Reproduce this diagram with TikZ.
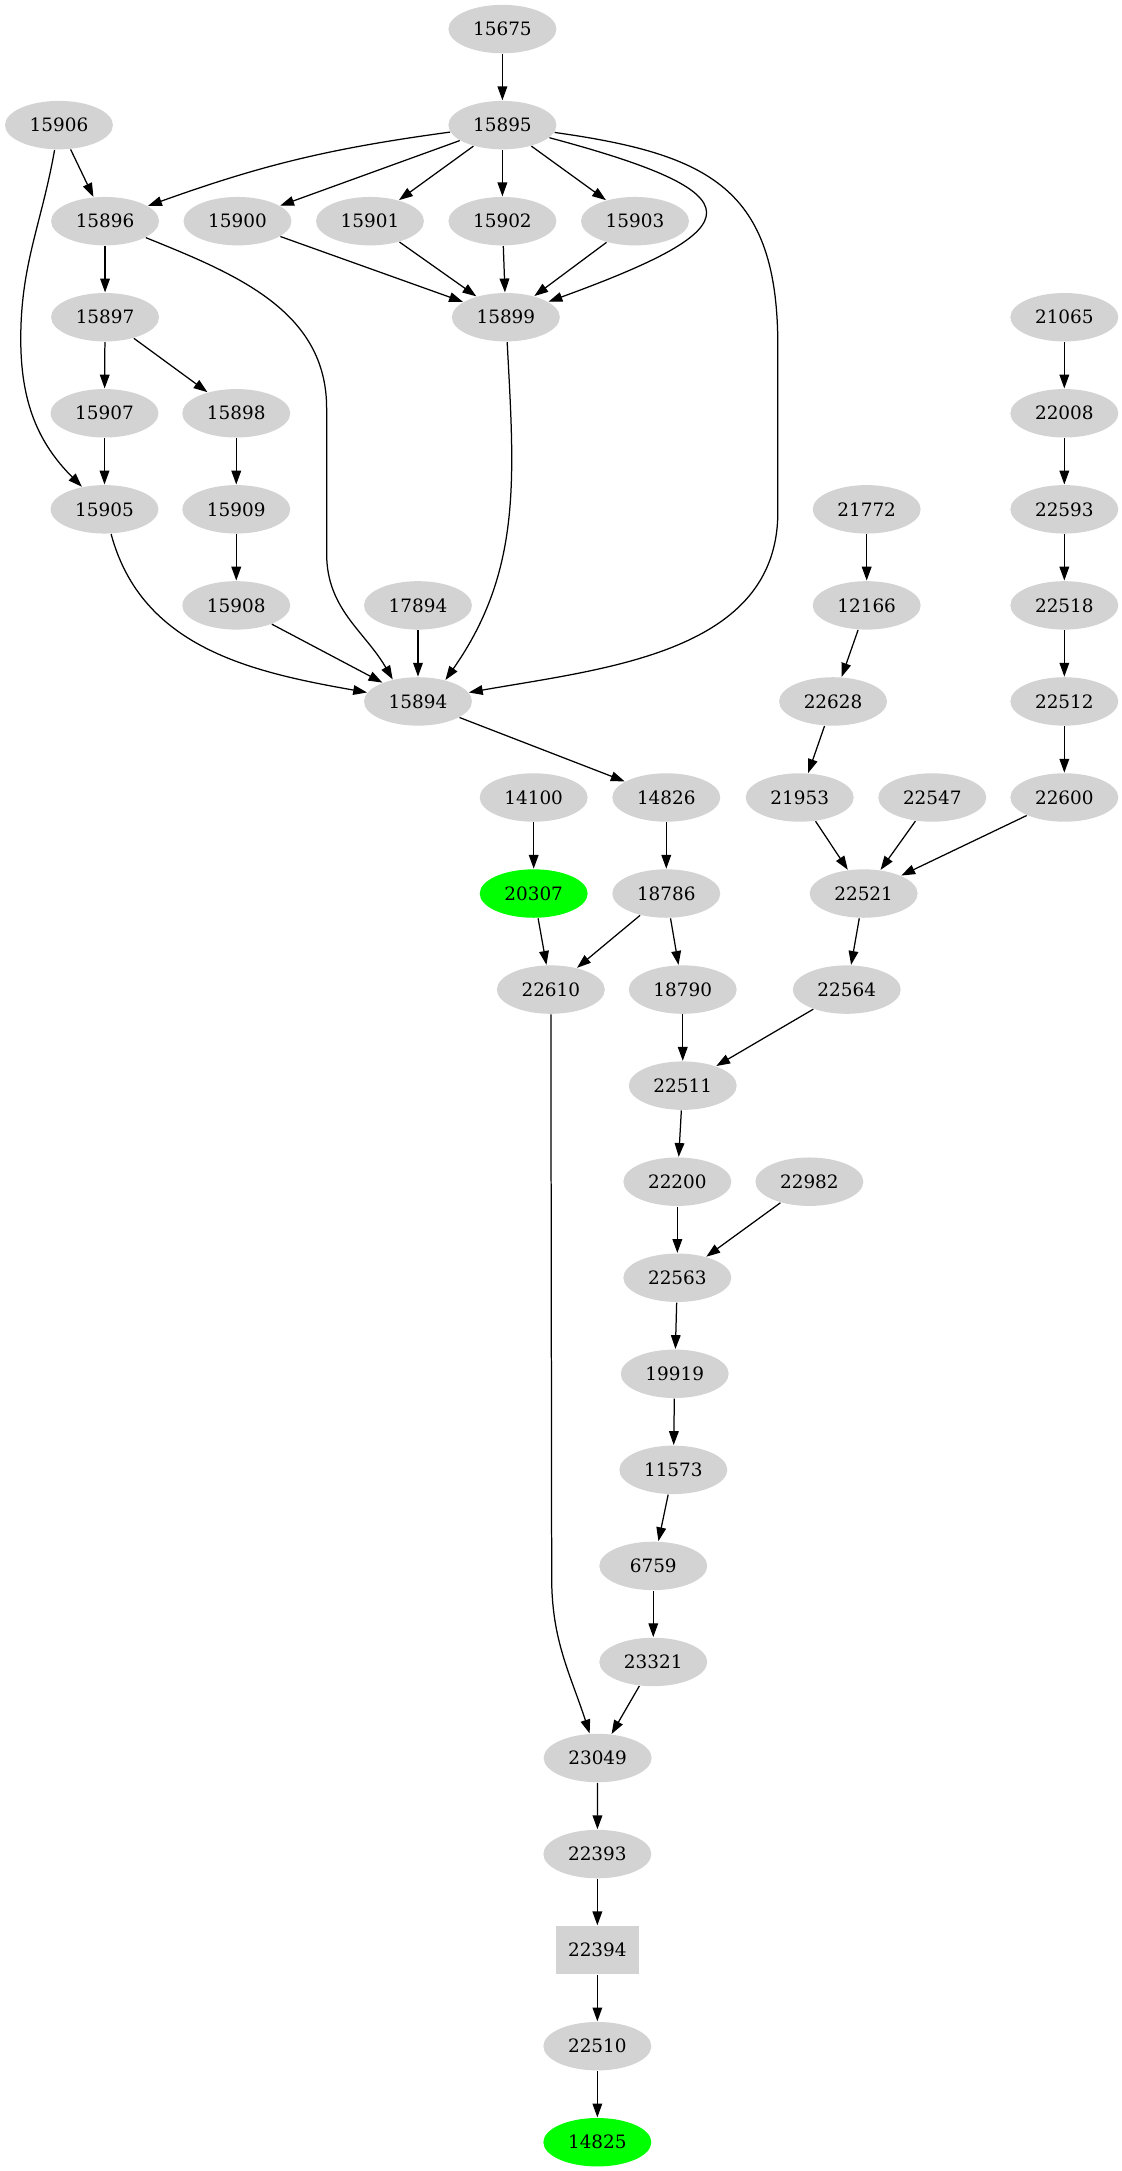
\documentclass[tikz,border=0pt]{standalone}
\usepackage{fontspec}
\setmainfont{DejaVu Serif}
\usetikzlibrary{arrows.meta, shapes.geometric}
\definecolor{cgrey}{HTML}{D3D3D3}
\definecolor{cgreen}{HTML}{00FF00}
\tikzset{
  every picture/.style={line width=0.9pt},
  arrow/.style={-{Triangle[length=10pt, width=7pt]}, draw=black},
  lbl/.style={font=\fontsize{13.3}{16}\selectfont},
}

\begin{document}
\begin{tikzpicture}[x=1pt, y=1pt,
  nd/.style={ellipse, fill=cgrey, minimum width=78pt, minimum height=35pt, inner sep=0pt, lbl},
  hit/.style={nd, fill=cgreen},
  blk/.style={rectangle, fill=cgrey, minimum width=60pt, minimum height=35pt, inner sep=0pt, lbl}]
  \useasboundingbox (0,0) rectangle (810,-1568.6);
  % upper block
  \node[nd] (n15675) at (363, -21) {15675};
  \node[nd] (n15895) at (363, -90.4) {15895};
  \node[nd] (n15906) at (42.6, -90.4) {15906};
  \node[nd] (n15896) at (75.9, -159.8) {15896};
  \node[nd] (n15900) at (171.6, -159.8) {15900};
  \node[nd] (n15901) at (267.3, -159.8) {15901};
  \node[nd] (n15902) at (363, -159.8) {15902};
  \node[nd] (n15903) at (458.8, -159.8) {15903};
  \node[nd] (n15897) at (75.9, -229.2) {15897};
  \node[nd] (n15899) at (365.5, -229.2) {15899};
  \node[nd] (n15907) at (75.5, -298.6) {15907};
  \node[nd] (n15898) at (170.7, -298.6) {15898};
  \node[nd] (n15905) at (75.5, -368) {15905};
  \node[nd] (n15909) at (170.7, -368) {15909};
  \node[nd] (n15908) at (170.7, -437.4) {15908};
  \node[nd] (n17894) at (302, -437.4) {17894};
  \node[nd] (n15894) at (302, -506.8) {15894};
  \draw[arrow] (n15675) -- (n15895);
  \draw[arrow] (n15895) to[bend right=6] (n15896); \draw[arrow] (n15895) -- (n15900); \draw[arrow] (n15895) -- (n15901);
  \draw[arrow] (n15895) -- (n15902); \draw[arrow] (n15895) -- (n15903);
  \draw[arrow] (n15895) to[out=-15, in=20, looseness=3.4] (n15899);
  \draw[arrow] (n15895) to[out=-8, in=90, looseness=1.3] (562,-250) -- (562,-370) to[out=-90, in=10] (n15894);
  \draw[arrow] (n15906) -- (n15896);
  \draw[arrow] (n15906) to[out=-100, in=90] (15,-245) to[out=-90, in=135] (n15905);
  \draw[arrow] (n15896) -- (n15897);
  \draw[arrow] (n15896) to[out=-22, in=90] (236,-295) -- (236,-400) to[out=-90, in=120] (n15894.139);
  \draw[arrow] (n15900) -- (n15899); \draw[arrow] (n15901) -- (n15899); \draw[arrow] (n15902) -- (n15899); \draw[arrow] (n15903) -- (n15899);
  \draw[arrow] (n15899) to[out=-87, in=55] (n15894.38);
  \draw[arrow] (n15897) -- (n15907); \draw[arrow] (n15897) -- (n15898);
  \draw[arrow] (n15907) -- (n15905); \draw[arrow] (n15898) -- (n15909); \draw[arrow] (n15909) -- (n15908);
  \draw[arrow] (n15905) to[out=-75, in=170] (n15894);
  \draw[arrow] (n15908) -- (n15894); \draw[arrow] (n17894) -- (n15894);
  % right chains
  \node[nd] (n21065) at (769, -229.2) {21065};
  \node[nd] (n22008) at (769, -298.6) {22008};
  \node[nd] (n22593) at (769, -368) {22593};
  \node[nd] (n22518) at (769, -437.4) {22518};
  \node[nd] (n22512) at (769, -506.8) {22512};
  \node[nd] (n22600) at (769, -576.2) {22600};
  \node[nd] (n21772) at (626.2, -368) {21772};
  \node[nd] (n12166) at (626.2, -437.4) {12166};
  \node[nd] (n22628) at (601.9, -506.8) {22628};
  \node[nd] (n21953) at (577.8, -576.2) {21953};
  \node[nd] (n22547) at (673.6, -576.2) {22547};
  \node[nd] (n22521) at (624, -645.6) {22521};
  \node[nd] (n22564) at (611.8, -715) {22564};
  \draw[arrow] (n21065) -- (n22008); \draw[arrow] (n22008) -- (n22593); \draw[arrow] (n22593) -- (n22518);
  \draw[arrow] (n22518) -- (n22512); \draw[arrow] (n22512) -- (n22600);
  \draw[arrow] (n21772) -- (n12166); \draw[arrow] (n12166) -- (n22628); \draw[arrow] (n22628) -- (n21953);
  \draw[arrow] (n21953) -- (n22521); \draw[arrow] (n22547) -- (n22521); \draw[arrow] (n22600) -- (n22521);
  \draw[arrow] (n22521) -- (n22564);
  % middle
  \node[nd] (n14100) at (385.6, -576.2) {14100};
  \node[nd] (n14826) at (481.4, -576.2) {14826};
  \node[hit] (n20307) at (385.6, -645.6) {20307};
  \node[nd] (n18786) at (481.4, -645.6) {18786};
  \node[nd] (n22610) at (398, -715) {22610};
  \node[nd] (n18790) at (493.3, -715) {18790};
  \node[nd] (n22511) at (493.3, -784.4) {22511};
  \node[nd] (n22200) at (489.4, -853.8) {22200};
  \node[nd] (n22982) at (584.8, -853.8) {22982};
  \node[nd] (n22563) at (489.4, -923.2) {22563};
  \node[nd] (n19919) at (487.5, -992.6) {19919};
  \node[nd] (n11573) at (486.5, -1062) {11573};
  \node[nd] (n6759) at (472, -1131.4) {6759};
  \node[nd] (n23321) at (472, -1200.8) {23321};
  \draw[arrow] (n15894) -- (n14826); \draw[arrow] (n14826) -- (n18786); \draw[arrow] (n14100) -- (n20307);
  \draw[arrow] (n20307) -- (n22610); \draw[arrow] (n18786) -- (n22610); \draw[arrow] (n18786) -- (n18790);
  \draw[arrow] (n18790) -- (n22511); \draw[arrow] (n22564) -- (n22511);
  \draw[arrow] (n22511) -- (n22200); \draw[arrow] (n22200) -- (n22563); \draw[arrow] (n22982) -- (n22563);
  \draw[arrow] (n22563) -- (n19919); \draw[arrow] (n19919) -- (n11573); \draw[arrow] (n11573) -- (n6759);
  \draw[arrow] (n6759) -- (n23321);
  % bottom chain
  \node[nd] (n23049) at (431.8, -1270.2) {23049};
  \node[nd] (n22393) at (431.6, -1339.6) {22393};
  \node[blk] (n22394) at (431.6, -1409) {22394};
  \node[nd] (n22510) at (431.6, -1478.4) {22510};
  \node[hit] (n14825) at (431.6, -1547.8) {14825};
  \draw[arrow] (n23321) -- (n23049);
  \draw[arrow] (n22610) -- (398.6,-1140) to[out=-90, in=108] (n23049);
  \draw[arrow] (n23049) -- (n22393); \draw[arrow] (n22393) -- (n22394);
  \draw[arrow] (n22394) -- (n22510); \draw[arrow] (n22510) -- (n14825);
\end{tikzpicture}
\end{document}
